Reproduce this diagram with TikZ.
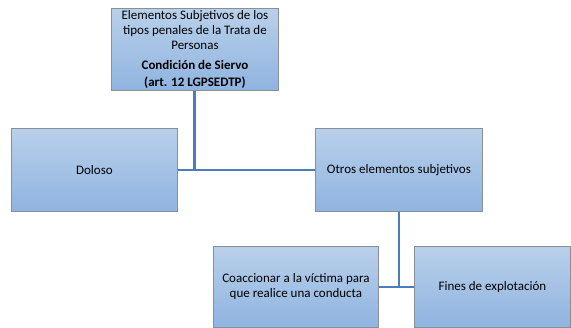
\documentclass[tikz,border=0pt]{standalone}
\usepackage{fontspec}
\setmainfont{Carlito}
\definecolor{linkblue}{HTML}{4A7EBB}
\definecolor{boxtop}{HTML}{B9D0EA}
\definecolor{boxbot}{HTML}{8FB4E0}
\definecolor{boxedge}{HTML}{8A8F96}
\begin{document}
\begin{tikzpicture}[x=1pt,y=-1pt,
  box/.style={draw=boxedge,line width=0.9pt,top color=boxtop,bottom color=boxbot,
    anchor=north west,inner sep=1pt,align=center,font=\fontsize{13}{15}\selectfont,text=black},
  link/.style={draw=linkblue,line width=2.6pt}]
\useasboundingbox (0,0) rectangle (571,328);
\node[box,minimum width=167pt,minimum height=82pt] (top) at (111,8)
  {Elementos Subjetivos de los\\tipos penales de la Trata de\\Personas\\[5pt]
   \textbf{Condición de Siervo}\\[2pt]\textbf{(art. 12 LGPSEDTP)}};
\node[box,minimum width=166pt,minimum height=83pt] (dol) at (11,128) {Doloso};
\node[box,minimum width=167pt,minimum height=83pt] (otr) at (315,128) {Otros elementos subjetivos};
\node[box,minimum width=165pt,minimum height=81pt] (coa) at (213,246) {Coaccionar a la víctima para\\que realice una conducta};
\node[box,minimum width=156pt,minimum height=81pt] (fin) at (414,246) {Fines de explotación};
\coordinate (j2) at (otr.south |- coa.east);
\draw[link] (dol.east) -- (otr.west);
\draw[link] ([xshift=-0.5pt]top.south) -- ([xshift=-0.5pt]top.south |- dol.east);
\draw[link] (coa.east) -- (fin.west);
\draw[link] (otr.south) -- (j2);
\end{tikzpicture}
\end{document}
